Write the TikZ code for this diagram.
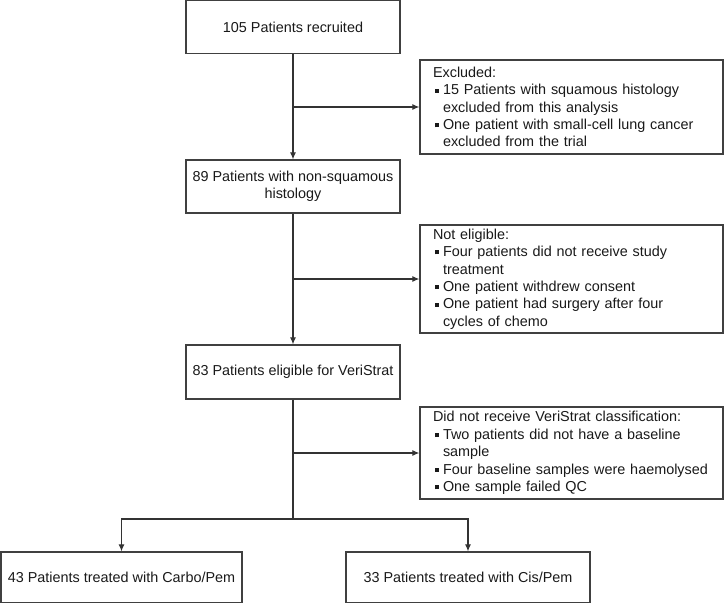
\documentclass[tikz,border=0pt]{standalone}
\usepackage{fontspec}
\setmainfont{Liberation Sans}
\usetikzlibrary{arrows.meta}
\newcommand{\bul}{\makebox[10pt][l]{\hspace{1.8pt}\raisebox{2.2pt}{\rule{4pt}{4pt}}}}
\newcommand{\ind}{\hspace*{10pt}}
\begin{document}
\begin{tikzpicture}[x=1pt,y=-1pt,
  font=\fontsize{14.4pt}{17.4pt}\selectfont,
  box/.style={draw=black!75, line width=1.3pt, text=black!90, inner sep=0pt, align=center, minimum width=214pt, minimum height=53pt},
  side/.style={draw=black!75, line width=1.3pt, text=black!90, minimum width=303pt, text width=277pt, inner xsep=13pt, inner ysep=0pt, align=left},
  arr/.style={draw=black!80, line width=1.1pt, -{Latex[length=7pt,width=6pt]}},
  ln/.style={draw=black!80, line width=1.1pt}]
\useasboundingbox (0,0) rectangle (724,603);
\node[box] (b1) at (293,27) {105 Patients recruited};
\node[box] (b2) at (293,186.5) {89 Patients with non-squamous\\histology};
\node[box, minimum height=54pt] (b3) at (293,372) {83 Patients eligible for VeriStrat};
\node[side, minimum height=94pt] (ex) at (571.5,107) {Excluded:\\
\bul 15 Patients with squamous histology\\
\ind excluded from this analysis\\
\bul One patient with small-cell lung cancer\\
\ind excluded from the trial};
\node[side, minimum height=108pt] (ne) at (571.5,279) {Not eligible:\\
\bul Four patients did not receive study\\
\ind treatment\\
\bul One patient withdrew consent\\
\bul One patient had surgery after four\\
\ind cycles of chemo};
\node[side, minimum height=92pt] (dr) at (571.5,453) {Did not receive VeriStrat classification:\\
\bul Two patients did not have a baseline\\
\ind sample\\
\bul Four baseline samples were haemolysed\\
\bul One sample failed QC};
\node[box, minimum width=241pt, minimum height=51pt] (bl) at (121.5,577.5) {43 Patients treated with Carbo/Pem};
\node[box, minimum width=244pt, minimum height=51pt] (br) at (468,577.5) {33 Patients treated with Cis/Pem};
\coordinate (split) at (293,519);
\draw[arr] (b1) -- (b2);
\draw[arr] (b1.south |- ex.west) -- (ex.west);
\draw[arr] (b2) -- (b3);
\draw[arr] (b2.south |- ne.west) -- (ne.west);
\draw[ln] (b3) -- (split);
\draw[arr] (b3.south |- dr.west) -- (dr.west);
\draw[arr] (split) -| (bl);
\draw[arr] (split) -| (br);
\end{tikzpicture}
\end{document}
